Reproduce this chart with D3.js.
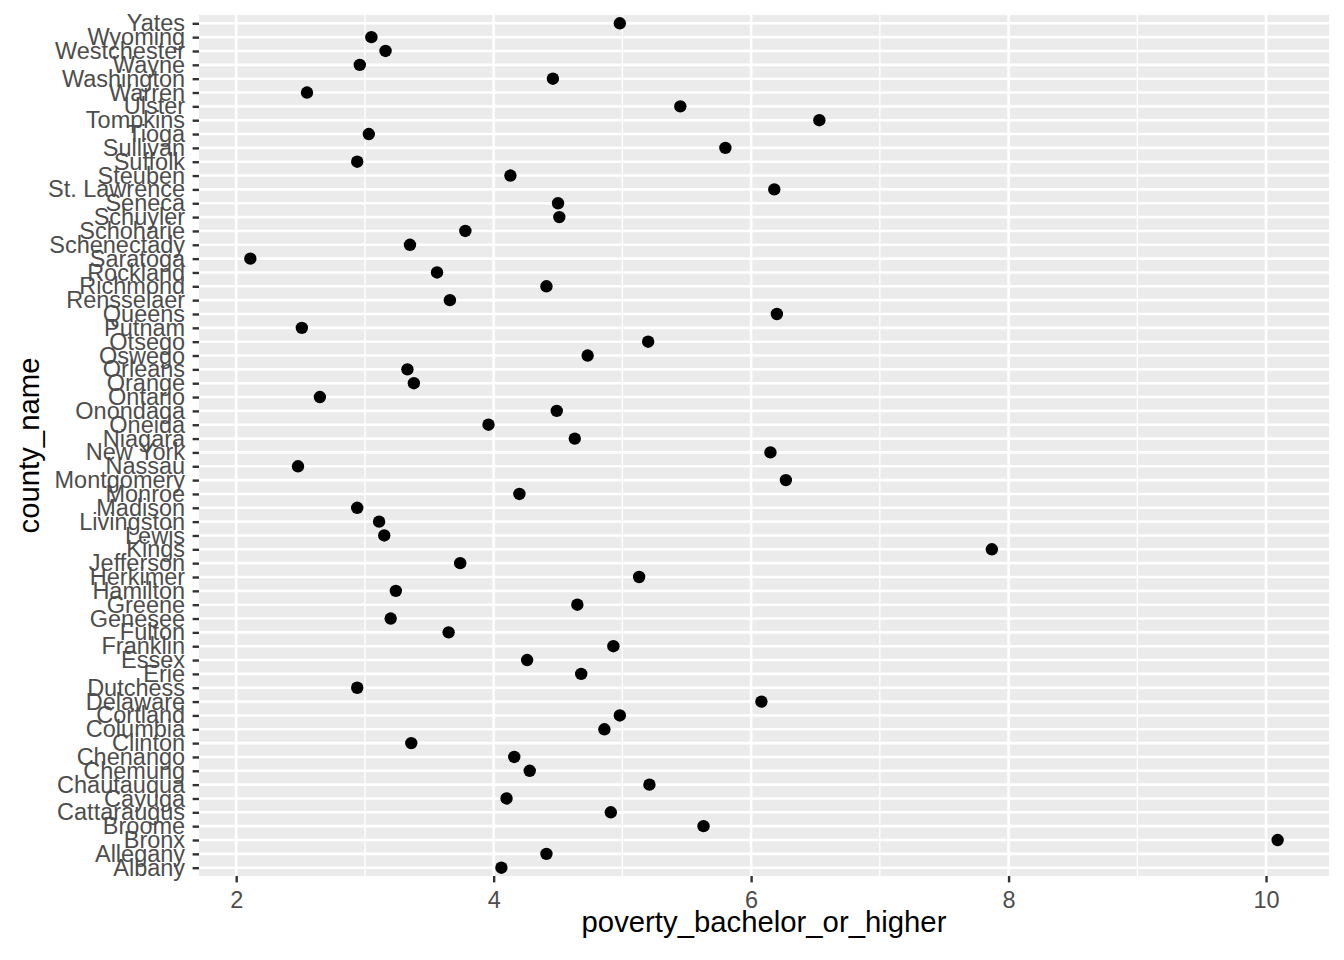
<!DOCTYPE html>
<html>
<head>
<meta charset="utf-8">
<script src="https://cdn.jsdelivr.net/npm/d3@7"></script>
<style>
  body { margin: 0; background: #fff; }
  text { font-family: "Liberation Sans", Arial, Helvetica, sans-serif; }
</style>
</head>
<body>
<div id="chart"></div>
<script>
// counties, alphabetical (ggplot puts the first level at the bottom)
var counties = ["Albany", "Allegany", "Bronx", "Broome", "Cattaraugus", "Cayuga", "Chautauqua",
  "Chemung", "Chenango", "Clinton", "Columbia", "Cortland", "Delaware", "Dutchess", "Erie",
  "Essex", "Franklin", "Fulton", "Genesee", "Greene", "Hamilton", "Herkimer", "Jefferson",
  "Kings", "Lewis", "Livingston", "Madison", "Monroe", "Montgomery", "Nassau", "New York",
  "Niagara", "Oneida", "Onondaga", "Ontario", "Orange", "Orleans", "Oswego", "Otsego",
  "Putnam", "Queens", "Rensselaer", "Richmond", "Rockland", "Saratoga", "Schenectady",
  "Schoharie", "Schuyler", "Seneca", "St. Lawrence", "Steuben", "Suffolk", "Sullivan",
  "Tioga", "Tompkins", "Ulster", "Warren", "Washington", "Wayne", "Westchester", "Wyoming", "Yates"];

var povertyBachelor = [4.06, 4.41, 10.09, 5.63, 4.91, 4.10, 5.21,
  4.28, 4.16, 3.36, 4.86, 4.98, 6.08, 2.94, 4.68,
  4.26, 4.93, 3.65, 3.20, 4.65, 3.24, 5.13, 3.74,
  7.87, 3.15, 3.11, 2.94, 4.20, 6.27, 2.48, 6.15,
  4.63, 3.96, 4.49, 2.65, 3.38, 3.33, 4.73, 5.20,
  2.51, 6.20, 3.66, 4.41, 3.56, 2.11, 3.35,
  3.78, 4.51, 4.50, 6.18, 4.13, 2.94, 5.80,
  3.03, 6.53, 5.45, 2.55, 4.46, 2.96, 3.16, 3.05, 4.98];

var xTicks = [2, 4, 6, 8, 10];
var xMinor = [3, 5, 7, 9];

var xTitle = "poverty_bachelor_or_higher";
var yTitle = "county_name";

drawChart();

function drawChart() {
  var width = 1344, height = 960;
  var panel = { left: 199, right: 1329, top: 15, bottom: 876 };

  var svg = d3.select("#chart").append("svg")
    .attr("width", width).attr("height", height);

  var data = counties.map(function(c, i) {
    return { county: c, value: povertyBachelor[i] };
  });

  // 5% expansion like ggplot's continuous scale
  var ext = d3.extent(povertyBachelor);
  var pad = (ext[1] - ext[0]) * 0.05;
  var x = d3.scaleLinear()
    .domain([ext[0] - pad, ext[1] + pad])
    .range([panel.left, panel.right]);

  // discrete axis: 0.6 unit expansion at each end
  var y = d3.scalePoint()
    .domain(counties)
    .range([panel.bottom, panel.top])
    .padding(0.6);

  svg.append("rect")
    .attr("x", panel.left).attr("y", panel.top)
    .attr("width", panel.right - panel.left)
    .attr("height", panel.bottom - panel.top)
    .attr("fill", "#EBEBEB");

  var grid = svg.append("g");

  grid.selectAll(".minor-x").data(xMinor).enter().append("line")
    .attr("x1", function(d) { return x(d); }).attr("x2", function(d) { return x(d); })
    .attr("y1", panel.top).attr("y2", panel.bottom)
    .attr("stroke", "#fff").attr("stroke-width", 1.3);

  grid.selectAll(".major-y").data(counties).enter().append("line")
    .attr("x1", panel.left).attr("x2", panel.right)
    .attr("y1", function(d) { return y(d); }).attr("y2", function(d) { return y(d); })
    .attr("stroke", "#fff").attr("stroke-width", 2.6);

  grid.selectAll(".major-x").data(xTicks).enter().append("line")
    .attr("x1", function(d) { return x(d); }).attr("x2", function(d) { return x(d); })
    .attr("y1", panel.top).attr("y2", panel.bottom)
    .attr("stroke", "#fff").attr("stroke-width", 2.6);

  svg.append("g").selectAll("circle").data(data).enter().append("circle")
    .attr("cx", function(d) { return x(d.value); })
    .attr("cy", function(d) { return y(d.county); })
    .attr("r", 6.2)
    .attr("fill", "#000");

  // axes
  var xAxis = svg.append("g")
    .attr("transform", "translate(0," + panel.bottom + ")")
    .call(d3.axisBottom(x).tickValues(xTicks).tickSize(6.4).tickPadding(8.5).tickFormat(d3.format("d")));

  var yAxis = svg.append("g")
    .attr("transform", "translate(" + panel.left + ",0)")
    .call(d3.axisLeft(y).tickSize(6.4).tickPadding(7.5));

  [xAxis, yAxis].forEach(function(ax) {
    ax.select(".domain").remove();
    ax.selectAll(".tick line").attr("stroke", "#333333").attr("stroke-width", 2.4);
    ax.selectAll(".tick text")
      .attr("fill", "#4D4D4D")
      .style("font-size", "23.5px")
      .style("font-family", "'Liberation Sans', Arial, Helvetica, sans-serif");
  });

  svg.append("text")
    .attr("x", (panel.left + panel.right) / 2)
    .attr("y", 932)
    .attr("text-anchor", "middle")
    .style("font-size", "29.3px")
    .attr("fill", "#000")
    .text(xTitle);

  svg.append("text")
    .attr("transform", "translate(39," + (panel.top + panel.bottom) / 2 + ") rotate(-90)")
    .attr("text-anchor", "middle")
    .style("font-size", "29.3px")
    .attr("fill", "#000")
    .text(yTitle);
}
</script>
</body>
</html>
